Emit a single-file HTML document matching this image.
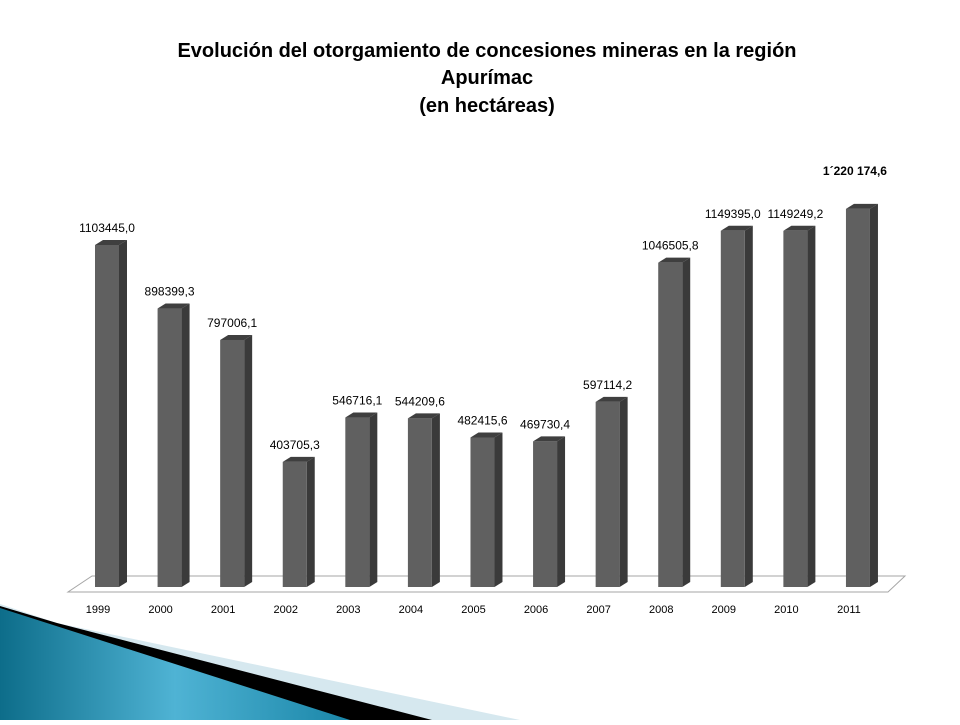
<!DOCTYPE html>
<html><head><meta charset="utf-8"><style>
body{margin:0;width:960px;height:720px;background:#fff;overflow:hidden;font-family:"Liberation Sans",sans-serif}
</style></head><body>
<svg width="960" height="720" viewBox="0 0 960 720">
<g>
<polygon points="0,604 57,623 520,720 0,720" fill="#d6e8ef"/>
<polygon points="0,606 57,623 432,720 0,720" fill="#000"/>
<defs><linearGradient id="bl" x1="0" y1="0" x2="1" y2="0"><stop offset="0" stop-color="#0d6d8a"/><stop offset="0.5" stop-color="#4fb3d4"/><stop offset="1" stop-color="#1a86a8"/></linearGradient></defs>
<polygon points="0,608 350,720 0,720" fill="url(#bl)"/>
</g>
<g font-weight="bold" font-size="20" text-anchor="middle" fill="#000">
<text x="487" y="57">Evolución del otorgamiento de concesiones mineras en la región</text>
<text x="487" y="84">Apurímac</text>
<text x="487" y="112">(en hectáreas)</text>
</g>
<polygon points="92,576 905,576 888,592 68,592" fill="#fff" stroke="#a6a6a6" stroke-width="1"/>
<g id="bars"></g>
<g id="labels"></g>
<g id="xlabels"></g>
</svg>
<script>
const categories=["1999","2000","2001","2002","2003","2004","2005","2006","2007","2008","2009","2010","2011"];
const values=[1103445.0,898399.3,797006.1,403705.3,546716.1,544209.6,482415.6,469730.4,597114.2,1046505.8,1149395.0,1149249.2,1220174.6];
const valueLabels=["1103445,0","898399,3","797006,1","403705,3","546716,1","544209,6","482415,6","469730,4","597114,2","1046505,8","1149395,0","1149249,2","1´220 174,6"];
const NS="http://www.w3.org/2000/svg";
const base=587,scale=342/1103445;
function x(i){return 107+i*62.58;}
function y(v){return base-v*scale;}
const bars=document.getElementById('bars'),labels=document.getElementById('labels'),xl=document.getElementById('xlabels');
function mk(tag,attrs,parent){const e=document.createElementNS(NS,tag);for(const k in attrs)e.setAttribute(k,attrs[k]);parent.appendChild(e);return e;}
values.forEach((v,i)=>{
  const cx=x(i),t=y(v),w=24,d=8,l=cx-12;
  const g=document.createElementNS(NS,'g');
  
  
  bars.appendChild(g);
  mk('polygon',{points:`${l},${t} ${l+d},${t-5} ${l+w+d},${t-5} ${l+w},${t}`,fill:'#3f3f3f'},g);
  mk('polygon',{points:`${l+w},${t} ${l+w+d},${t-5} ${l+w+d},${base-5} ${l+w},${base}`,fill:'#3a3a3a'},g);
  mk('rect',{x:l,y:t,width:w,height:base-t,fill:'#606060'},g);
  const last=i===values.length-1;
  const tx=mk('text',{x:last?cx-3:cx,y:last?175:t-13,'text-anchor':'middle','font-size':'12',fill:'#000','font-weight':last?'bold':'normal'},labels);
  
  
  tx.textContent=valueLabels[i];
  const c=mk('text',{x:cx-9,y:613,'text-anchor':'middle','font-size':'11',fill:'#000'},xl);
  
  
  c.textContent=categories[i];
});
</script>
</body></html>
